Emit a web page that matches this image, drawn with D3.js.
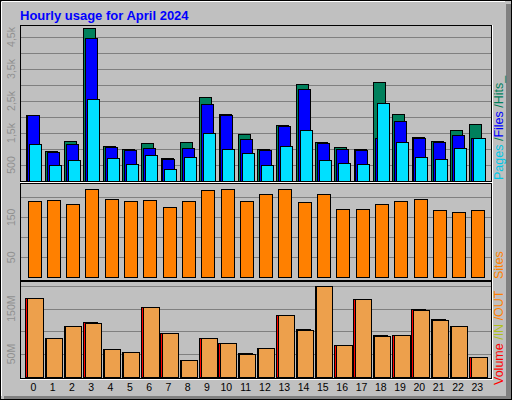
<!DOCTYPE html>
<html><head><meta charset="utf-8">
<script src="https://cdn.jsdelivr.net/npm/d3@7"></script>
<style>body{margin:0;background:#fff}svg{display:block}text{font-family:"Liberation Sans","DejaVu Sans",sans-serif}</style>
</head><body><svg id="c" width="512" height="400"></svg>
<script>
const hours = d3.range(24).map(String);
const hits  = [2050,930,1240,4770,1080,990,1180,710,1210,2620,2080,1460,990,1740,3020,1210,1050,990,3080,2080,1370,1240,1580,1770];
const files = [2050,900,1150,4460,1050,960,1020,680,1020,2400,2050,1300,960,1710,2860,1180,990,960,1330,1890,1330,1210,1430,1330];
const pages = [1150,490,650,2550,710,520,800,365,740,1490,990,860,490,1080,1580,650,550,520,2430,1210,740,680,1020,1330];
const sites = [190,192.5,182.5,220,195,190,192.5,175,190,217.5,220,190,207.5,220,187.5,207.5,170,170,182.5,190,195,167.5,162.5,167.5];
const volume = [173,84.7,111,120,60.4,53.8,153,95.7,36.2,84.7,73.7,51.6,62.6,135.4,104.6,199.4,69.3,170.7,91.3,91.3,148.7,126.6,111,42.8];
const volOut = [173,84.7,111,117.8,60.4,53.8,153,95.7,36.2,84.7,73.7,49.4,62.6,135.4,102.4,199.4,69.3,170.7,89.1,91.3,146.5,124.4,111,42.8];
const hitTicks=[500,1500,2500,3500,4500], hitTickLabels=["500","1,5k","2,5k","3,5k","4,5k"];
const siteTicks=[50,150], volTicks=[50,150];

const svg=d3.select("#c");
svg.append("rect").attr("width",512).attr("height",400).attr("fill","#c0c0c0");
svg.append("rect").attr("x",0.5).attr("y",0.5).attr("width",511).attr("height",399).attr("fill","none").attr("stroke","#000");
svg.append("line").attr("x1",2).attr("x2",505).attr("y1",1.5).attr("y2",1.5).attr("stroke","#fff");
svg.append("line").attr("x1",1.5).attr("x2",1.5).attr("y1",2).attr("y2",396).attr("stroke","#fff");
svg.append("rect").attr("x",506).attr("y",4).attr("width",5).attr("height",395).attr("fill","#808080");
svg.append("rect").attr("x",4).attr("y",396).attr("width",507).attr("height",3).attr("fill","#808080");

svg.append("text").attr("x",20).attr("y",20).attr("fill","#0000ff").attr("font-weight","bold").attr("font-size",13).text("Hourly usage for April 2024");

const x=d3.scaleBand().domain(hours).range([21,484.3]).paddingInner(0).paddingOuter(0);
const L=20,R=491;
function frame(t,b){
  svg.append("line").attr("x1",L).attr("x2",R+1).attr("y1",b+1.5).attr("y2",b+1.5).attr("stroke","#fff");
  svg.append("line").attr("x1",R+1.5).attr("x2",R+1.5).attr("y1",t).attr("y2",b+2).attr("stroke","#fff");
  svg.append("rect").attr("x",L+0.5).attr("y",t+0.5).attr("width",R-L).attr("height",b-t).attr("fill","none").attr("stroke","#000");
}
function grid(y,vals){
  vals.forEach(v=>svg.append("line").attr("x1",L+1).attr("x2",R).attr("y1",Math.round(y(v))+0.5).attr("y2",Math.round(y(v))+0.5).attr("stroke","#808080"));
}
function ylab(y,ticks,labels){
  ticks.forEach((v,i)=>svg.append("text").attr("transform",`translate(15,${y(v)}) rotate(-90)`).attr("text-anchor","middle").attr("fill","#909090").attr("font-size",10.5).text(labels[i]));
}
function bars(data,y,dx,w,color){
  svg.append("g").selectAll("rect").data(data).join("rect")
    .attr("x",(d,i)=>Math.round(x(hours[i])+dx)+0.5).attr("y",d=>Math.round(y(d))+0.5)
    .attr("width",w).attr("height",d=>Math.round(y(0))-Math.round(y(d))).attr("fill",color).attr("stroke","#000");
}
frame(25,181);
const y1=d3.scaleLinear().domain([0,1000]).range([181,149]);
grid(y1,[500,1000,1500,2000,2500,3000,3500,4000,4500]);
ylab(y1,hitTicks,hitTickLabels);
bars(hits,y1,4.5,12,"#00805c");
bars(files,y1,6.3,12,"#0000ff");
bars(pages,y1,8.3,12,"#00e0ff");
frame(183,280);
const y2=d3.scaleLinear().domain([0,100]).range([277.3,237.3]);
grid(y2,[50,100,150,200]);
ylab(y2,siteTicks,siteTicks.map(String));
bars(sites,y2,6.5,13,"#ff8000");
frame(281,378);
const y3=d3.scaleLinear().domain([0,50]).range([376.7,354]);
grid(y3,[50,100,150,200]);
ylab(y3,volTicks,["50M","150M"]);
bars(volume,y3,4.3,14,"#ff0000");
bars(volOut,y3,5.8,16,"#eda04c");
hours.forEach(h=>svg.append("text").attr("x",x(h)+12.3).attr("y",391).attr("text-anchor","middle").attr("font-size",10.5).attr("fill","#000").text(h));
function rlab(y,parts){
  const t=svg.append("text").attr("transform",`translate(503,${y}) rotate(-90)`).attr("font-size",12.5);
  parts.forEach(p=>t.append("tspan").attr("fill",p[1]).text(p[0]));
}
rlab(180,[["Pages","#00c8e8"],[" /","#00805c"],["Files","#0000ff"],[" /","#00805c"],["Hits_","#00805c"]]);
rlab(279,[["Sites","#ff8000"]]);
rlab(385,[["Volume","#ff0000"],[" /IN","#b0c020"],[" /OUT","#ff8000"]]);
</script></body></html>
